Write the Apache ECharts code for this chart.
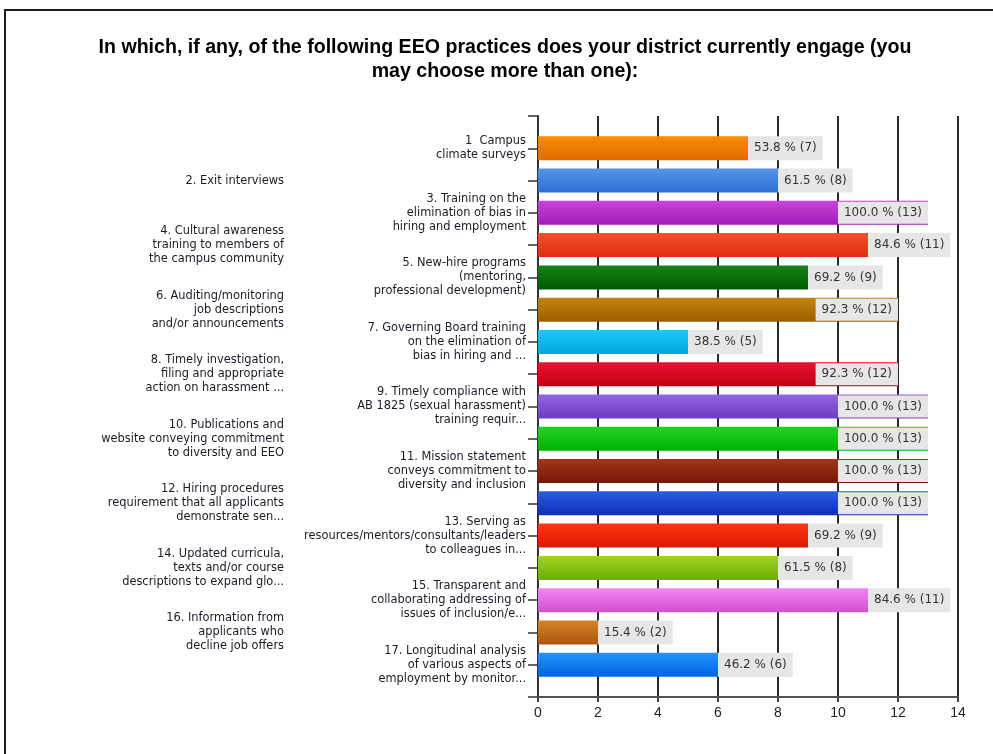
<!DOCTYPE html>
<html>
<head>
<meta charset="utf-8">
<script src="https://cdn.jsdelivr.net/npm/echarts@6/dist/echarts.min.js"></script>
<style>
  html, body { margin: 0; padding: 0; background: #fff; }
  #chart { width: 993px; height: 754px; }
</style>
</head>
<body>
<div id="chart"></div>
<script>
// Survey question and response options (top to bottom)
const titleText = 'In which, if any, of the following EEO practices does your district currently engage (you\nmay choose more than one):';

const practices = [
  '1  Campus\nclimate surveys',
  '2. Exit interviews',
  '3. Training on the\nelimination of bias in\nhiring and employment',
  '4. Cultural awareness\ntraining to members of\nthe campus community',
  '5. New-hire programs\n(mentoring,\nprofessional development)',
  '6. Auditing/monitoring\njob descriptions\nand/or announcements',
  '7. Governing Board training\non the elimination of\nbias in hiring and ...',
  '8. Timely investigation,\nfiling and appropriate\naction on harassment ...',
  '9. Timely compliance with\nAB 1825 (sexual harassment)\ntraining requir...',
  '10. Publications and\nwebsite conveying commitment\nto diversity and EEO',
  '11. Mission statement\nconveys commitment to\ndiversity and inclusion',
  '12. Hiring procedures\nrequirement that all applicants\ndemonstrate sen...',
  '13. Serving as\nresources/mentors/consultants/leaders\nto colleagues in...',
  '14. Updated curricula,\ntexts and/or course\ndescriptions to expand glo...',
  '15. Transparent and\ncollaborating addressing of\nissues of inclusion/e...',
  '16. Information from\napplicants who\ndecline job offers',
  '17. Longitudinal analysis\nof various aspects of\nemployment by monitor...'
];

// Number of districts choosing each practice
const counts = [7, 8, 13, 11, 9, 12, 5, 12, 13, 13, 13, 13, 9, 8, 11, 2, 6];

// Share of respondents (%)
const percents = [53.8, 61.5, 100.0, 84.6, 69.2, 92.3, 38.5, 92.3, 100.0, 100.0, 100.0, 100.0, 69.2, 61.5, 84.6, 15.4, 46.2];

// Bar gradient colours: [top, bottom]
const barColors = [
  ['#f88c06', '#e26a00'],
  ['#5494ea', '#2e6ed2'],
  ['#c644da', '#a01eb8'],
  ['#f7502c', '#e02c12'],
  ['#148414', '#005a00'],
  ['#c4840e', '#9e5e00'],
  ['#18caf8', '#00a6e0'],
  ['#e41432', '#c60012'],
  ['#9464e2', '#6a3ec2'],
  ['#24d424', '#00b000'],
  ['#a4341a', '#761808'],
  ['#2c5ce4', '#0e2ebe'],
  ['#ff3614', '#e01600'],
  ['#a2d222', '#6cae00'],
  ['#f286f2', '#d24ed2'],
  ['#d48424', '#ae5610'],
  ['#2494ff', '#0066e0']
];

// Value axis ticks
const xMin = 0, xMax = 14, xStep = 2;

// Category axis carries one empty slot above and below the bars
const yCategories = [''].concat(practices, ['']);

const chart = echarts.init(document.getElementById('chart'), null, { renderer: 'canvas' });

const labelFont = 'DejaVu Sans';

const seriesData = counts.map((c, i) => ({
  value: [c, i + 1],
  itemStyle: {
    color: new echarts.graphic.LinearGradient(0, 0, 0, 1, [
      { offset: 0, color: barColors[i][0] },
      { offset: 1, color: barColors[i][1] }
    ])
  },
  label: c >= 12
    ? { position: 'insideRight', padding: [4, 6, 4, 6] }
    : { position: 'right', padding: [5, 6, 5, 6] }
}));

const option = {
  animation: false,
  backgroundColor: '#ffffff',
  title: {
    text: titleText,
    left: 505,
    top: 36,
    padding: 0,
    textAlign: 'center',
    textStyle: {
      fontFamily: 'Liberation Sans',
      fontSize: 19.6,
      fontWeight: 'bold',
      lineHeight: 24,
      color: '#000'
    }
  },
  graphic: [{
    type: 'rect',
    shape: { x: 5, y: 10, width: 1100, height: 900 },
    style: { fill: 'none', stroke: '#1a1a1a', lineWidth: 2 },
    silent: true
  }],
  grid: { left: 538, right: 35, top: 116, bottom: 57, containLabel: false },
  xAxis: {
    type: 'value',
    min: xMin,
    max: xMax,
    interval: xStep,
    axisLine: { show: true, lineStyle: { color: '#555', width: 2 } },
    axisTick: { show: true, length: 5, lineStyle: { color: '#444', width: 2 } },
    axisLabel: { fontFamily: 'Liberation Sans', fontSize: 14, color: '#222', margin: 9 },
    splitLine: { show: true, lineStyle: { color: '#2a2a2a', width: 2 } }
  },
  yAxis: {
    type: 'category',
    inverse: true,
    boundaryGap: false,
    data: yCategories,
    axisLine: { show: true, lineStyle: { color: '#333', width: 2 } },
    axisTick: { show: true, interval: 0, length: 10, lineStyle: { color: '#333', width: 1.5 } },
    splitLine: { show: false },
    axisLabel: {
      interval: 0,
      margin: 12,
      formatter: function (value, index) {
        if (!value) return '';
        const tag = index % 2 === 1 ? 'near' : 'far';
        return value.split('\n').map(l => '{' + tag + '|' + l + '}').join('\n');
      },
      rich: {
        near: { fontFamily: labelFont, fontSize: 11.4, lineHeight: 14, color: '#1a1a2a' },
        far: { fontFamily: labelFont, fontSize: 11.4, lineHeight: 14, color: '#1a1a2a', padding: [0, 242, 0, 0] }
      }
    }
  },
  series: [{
    type: 'bar',
    barWidth: 24,
    data: seriesData,
    encode: { x: 0, y: 1 },
    label: {
      show: true,
      distance: 0,
      backgroundColor: '#e6e6e6',
      color: '#333',
      fontFamily: labelFont,
      fontSize: 12,
      lineHeight: 14,
      formatter: function (p) {
        const i = p.dataIndex;
        return percents[i].toFixed(1) + ' % (' + counts[i] + ')';
      }
    }
  }]
};

chart.setOption(option);
</script>
</body>
</html>
